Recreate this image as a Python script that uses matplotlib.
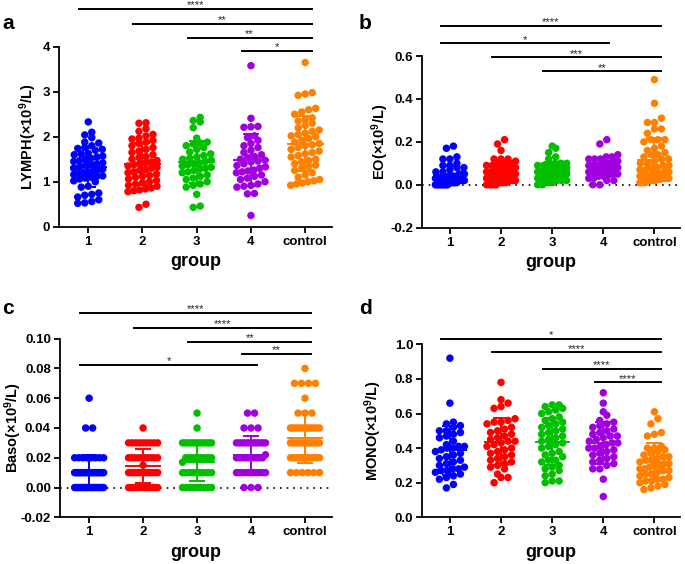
import numpy as np
import matplotlib.pyplot as plt

plt.rcParams['font.family'] = ['Liberation Sans', 'DejaVu Sans']
plt.rcParams['font.weight'] = 'bold'
plt.rcParams['mathtext.fontset'] = 'custom'
plt.rcParams['mathtext.rm'] = 'Liberation Sans:bold'
plt.rcParams['mathtext.default'] = 'rm'

groups = ['1', '2', '3', '4', 'control']
colors = ['#0000FF', '#FF0000', '#00C000', '#A000E0', '#FF8000']

# ---- LYMPH ----
lymph_g1 = [2.33, 2.10, 2.04, 1.98, 1.88, 1.86, 1.80, 1.76, 1.74, 1.72, 1.70, 1.63, 1.62,
            1.60, 1.57, 1.55, 1.52, 1.50, 1.47, 1.45, 1.42, 1.40, 1.38, 1.36, 1.33, 1.30,
            1.28, 1.26, 1.24, 1.22, 1.20, 1.18, 1.16, 1.13, 1.12, 1.10, 1.08, 1.06, 1.02,
            1.00, 0.90, 0.88, 0.75, 0.72, 0.70, 0.66, 0.60, 0.56, 0.53, 0.52]
lymph_g2 = [2.31, 2.30, 2.18, 2.12, 2.05, 2.02, 1.97, 1.95, 1.92, 1.88, 1.85, 1.80, 1.76,
            1.72, 1.68, 1.65, 1.60, 1.56, 1.54, 1.50, 1.47, 1.44, 1.42, 1.40, 1.38, 1.35,
            1.32, 1.30, 1.27, 1.25, 1.22, 1.20, 1.17, 1.14, 1.12, 1.10, 1.06, 1.03, 1.00,
            0.98, 0.95, 0.92, 0.90, 0.86, 0.84, 0.82, 0.80, 0.78, 0.50, 0.43]
lymph_g3 = [2.43, 2.36, 2.33, 2.20, 1.97, 1.88, 1.86, 1.84, 1.80, 1.76, 1.72, 1.66, 1.62,
            1.58, 1.55, 1.52, 1.50, 1.48, 1.45, 1.42, 1.40, 1.38, 1.35, 1.32, 1.30, 1.28,
            1.25, 1.22, 1.20, 1.15, 1.12, 1.08, 1.05, 1.00, 0.95, 0.92, 0.88, 0.72, 0.46, 0.43]
lymph_g4 = [3.58, 2.41, 2.23, 2.22, 2.21, 2.02, 1.98, 1.92, 1.85, 1.80, 1.76, 1.70, 1.65,
            1.60, 1.56, 1.54, 1.50, 1.48, 1.46, 1.44, 1.40, 1.36, 1.33, 1.30, 1.26, 1.24,
            1.22, 1.20, 1.15, 1.12, 1.08, 1.05, 1.00, 0.95, 0.92, 0.90, 0.88, 0.74, 0.73, 0.25]
lymph_ctrl = [3.65, 2.98, 2.95, 2.92, 2.63, 2.60, 2.55, 2.50, 2.42, 2.38, 2.35, 2.30, 2.25,
              2.20, 2.15, 2.12, 2.08, 2.05, 2.02, 2.00, 1.96, 1.92, 1.88, 1.85, 1.82, 1.80,
              1.76, 1.72, 1.68, 1.65, 1.62, 1.58, 1.55, 1.50, 1.47, 1.44, 1.40, 1.37, 1.34,
              1.30, 1.25, 1.20, 1.15, 1.10, 1.05, 1.02, 1.00, 0.97, 0.95, 0.92]

# ---- EO ----
eo_g1 = [0.18, 0.17, 0.13, 0.12, 0.12, 0.10, 0.09, 0.09, 0.08, 0.08, 0.07, 0.06, 0.06, 0.05,
         0.05, 0.05, 0.04, 0.04, 0.04, 0.04, 0.03, 0.03, 0.03, 0.03, 0.03, 0.02, 0.02, 0.02,
         0.02, 0.02, 0.01, 0.01, 0.01, 0.01, 0.01, 0.01, 0.00, 0.00, 0.00, 0.00, 0.00, 0.00,
         0.00, 0.00, 0.00]
eo_g2 = [0.21, 0.19, 0.16, 0.12, 0.12, 0.12, 0.11, 0.10, 0.10, 0.10, 0.09, 0.09, 0.08, 0.08,
         0.08, 0.07, 0.07, 0.07, 0.06, 0.06, 0.06, 0.05, 0.05, 0.05, 0.05, 0.04, 0.04, 0.04,
         0.04, 0.03, 0.03, 0.03, 0.03, 0.02, 0.02, 0.02, 0.02, 0.01, 0.01, 0.01, 0.01, 0.00,
         0.00, 0.00, 0.00, 0.00]
eo_g3 = [0.18, 0.17, 0.15, 0.13, 0.12, 0.10, 0.10, 0.10, 0.09, 0.09, 0.09, 0.08, 0.08, 0.08,
         0.08, 0.07, 0.07, 0.07, 0.07, 0.06, 0.06, 0.06, 0.06, 0.05, 0.05, 0.05, 0.05, 0.04,
         0.04, 0.04, 0.04, 0.03, 0.03, 0.03, 0.02, 0.02, 0.02, 0.01, 0.01, 0.00, 0.00]
eo_g4 = [0.21, 0.19, 0.14, 0.13, 0.13, 0.12, 0.12, 0.12, 0.11, 0.11, 0.10, 0.10, 0.10, 0.09,
         0.09, 0.09, 0.09, 0.08, 0.08, 0.08, 0.08, 0.07, 0.07, 0.07, 0.06, 0.06, 0.06, 0.05,
         0.05, 0.05, 0.04, 0.04, 0.03, 0.03, 0.02, 0.02, 0.00, 0.00]
eo_ctrl = [0.49, 0.38, 0.31, 0.29, 0.29, 0.26, 0.26, 0.24, 0.21, 0.21, 0.21, 0.20, 0.18, 0.17,
           0.16, 0.15, 0.14, 0.14, 0.13, 0.12, 0.12, 0.11, 0.10, 0.10, 0.09, 0.09, 0.08, 0.08,
           0.07, 0.07, 0.06, 0.06, 0.06, 0.05, 0.05, 0.05, 0.05, 0.05, 0.04, 0.04, 0.04, 0.04,
           0.04, 0.03, 0.03, 0.03, 0.03, 0.03, 0.02, 0.02, 0.02, 0.02, 0.01, 0.01, 0.01]

# ---- Baso (values recorded in 0.01 steps: counts per level) ----
baso_levels = [0.00, 0.01, 0.02, 0.03, 0.04, 0.05, 0.06, 0.07, 0.08]
baso_g1_counts = [18, 21, 8, 0, 2, 0, 1, 0, 0]
baso_g2_counts = [11, 12, 10, 9, 1, 0, 0, 0, 0]
baso_g3_counts = [9, 10, 9, 12, 1, 1, 0, 0, 0]
baso_g4_counts = [3, 10, 10, 11, 3, 2, 0, 0, 0]
baso_ctrl_counts = [0, 6, 13, 12, 13, 3, 1, 4, 1]
baso_extra = [[], [0.015], [0.017], [0.022], []]

# ---- MONO ----
mono_g1 = [0.92, 0.66, 0.55, 0.54, 0.53, 0.52, 0.50, 0.50, 0.49, 0.48, 0.47, 0.46, 0.44, 0.42,
           0.41, 0.41, 0.40, 0.40, 0.39, 0.38, 0.37, 0.36, 0.35, 0.34, 0.33, 0.32, 0.31, 0.30,
           0.29, 0.28, 0.28, 0.27, 0.27, 0.26, 0.25, 0.24, 0.23, 0.22, 0.19, 0.17]
mono_g2 = [0.78, 0.68, 0.66, 0.64, 0.63, 0.57, 0.56, 0.55, 0.55, 0.54, 0.52, 0.51, 0.50, 0.49,
           0.48, 0.47, 0.46, 0.45, 0.44, 0.44, 0.43, 0.42, 0.41, 0.40, 0.39, 0.38, 0.37, 0.36,
           0.35, 0.34, 0.33, 0.32, 0.31, 0.30, 0.29, 0.28, 0.25, 0.23, 0.23, 0.20]
mono_g3 = [0.65, 0.65, 0.64, 0.63, 0.62, 0.61, 0.60, 0.58, 0.57, 0.56, 0.55, 0.54, 0.53, 0.52,
           0.51, 0.50, 0.49, 0.48, 0.47, 0.46, 0.45, 0.44, 0.43, 0.42, 0.41, 0.40, 0.38, 0.37,
           0.36, 0.35, 0.33, 0.33, 0.32, 0.30, 0.29, 0.28, 0.27, 0.25, 0.24, 0.21, 0.21, 0.20]
mono_g4 = [0.72, 0.66, 0.61, 0.59, 0.56, 0.55, 0.54, 0.53, 0.52, 0.51, 0.50, 0.49, 0.48, 0.47,
           0.47, 0.46, 0.45, 0.44, 0.43, 0.43, 0.42, 0.41, 0.40, 0.40, 0.39, 0.38, 0.37, 0.36,
           0.35, 0.34, 0.33, 0.32, 0.31, 0.30, 0.28, 0.28, 0.22, 0.12]
mono_ctrl = [0.61, 0.57, 0.54, 0.49, 0.48, 0.47, 0.41, 0.40, 0.40, 0.39, 0.38, 0.37, 0.36, 0.35,
             0.35, 0.34, 0.33, 0.33, 0.32, 0.31, 0.31, 0.30, 0.30, 0.29, 0.28, 0.28, 0.27, 0.27,
             0.26, 0.25, 0.25, 0.24, 0.23, 0.22, 0.22, 0.21, 0.21, 0.20, 0.19, 0.18, 0.17, 0.16]

# significance comparisons: (from group, to group, label)
sig_lymph = [(1, 5, '****'), (2, 5, '**'), (3, 5, '**'), (4, 5, '*')]
sig_eo = [(1, 5, '****'), (1, 4, '*'), (2, 5, '***'), (3, 5, '**')]
sig_baso = [(1, 5, '****'), (2, 5, '****'), (3, 5, '**'), (4, 5, '**'), (1, 4, '*')]
sig_mono = [(1, 5, '*'), (2, 5, '****'), (3, 5, '****'), (4, 5, '****')]

baso_counts = [baso_g1_counts, baso_g2_counts, baso_g3_counts, baso_g4_counts, baso_ctrl_counts]
baso_data = [list(np.repeat(baso_levels, c)) + e for c, e in zip(baso_counts, baso_extra)]

panels = [
    dict(letter='a', data=[lymph_g1, lymph_g2, lymph_g3, lymph_g4, lymph_ctrl],
         ylabel='LYMPH(×10$^{9}$/L)', ylim=(0, 4), yticks=[0, 1, 2, 3, 4], fmt='{:.0f}',
         sig=sig_lymph, sig_y=[4.84, 4.51, 4.20, 3.91], zero=False, lab_off=20,
         rect=[0.0861, 0.598, 0.399, 0.3191]),
    dict(letter='b', data=[eo_g1, eo_g2, eo_g3, eo_g4, eo_ctrl],
         ylabel='EO(×10$^{9}$/L)', ylim=(-0.2, 0.6), yticks=[-0.2, 0.0, 0.2, 0.4, 0.6],
         fmt='{:.1f}', sig=sig_eo, sig_y=[0.74, 0.659, 0.594, 0.529], zero=True, lab_off=31,
         rect=[0.6165, 0.5963, 0.3762, 0.3044]),
    dict(letter='c', data=baso_data,
         ylabel='Baso(×10$^{9}$/L)', ylim=(-0.02, 0.10),
         yticks=[-0.02, 0.0, 0.02, 0.04, 0.06, 0.08, 0.10], fmt='{:.2f}',
         sig=sig_baso, sig_y=[0.1175, 0.1074, 0.098, 0.0899, 0.0823], zero=True, lab_off=36,
         rect=[0.0876, 0.0828, 0.397, 0.3167]),
    dict(letter='d', data=[mono_g1, mono_g2, mono_g3, mono_g4, mono_ctrl],
         ylabel='MONO(×10$^{9}$/L)', ylim=(0, 1.0), yticks=[0, 0.2, 0.4, 0.6, 0.8, 1.0],
         fmt='{:.1f}', sig=sig_mono, sig_y=[1.031, 0.954, 0.859, 0.78], zero=False, lab_off=38,
         rect=[0.6165, 0.0828, 0.3762, 0.3067]),
]


def swarm(ax, x0, vals, d=7.0, half=14.5):
    vals = np.sort(np.asarray(vals, dtype=float))
    pts = ax.transData.transform(np.column_stack([np.full(len(vals), x0), vals]))
    ypx = pts[:, 1]
    px_x = ax.transData.transform([[1, 0]])[0, 0] - ax.transData.transform([[0, 0]])[0, 0]
    xs = np.empty(len(vals))
    i = 0
    while i < len(vals):
        j = i
        while j < len(vals) and ypx[j] - ypx[i] < d * 0.85:
            j += 1
        n = j - i
        step = d if n < 2 else min(d, 2 * half / (n - 1))
        xs[i:j] = x0 + (np.arange(n) - (n - 1) / 2) * step / px_x
        i = j
    return xs, vals


fig = plt.figure(figsize=(6.85, 5.64), dpi=100)

for p in panels:
    ax = fig.add_axes(p['rect'])
    ax.set_xlim(0.46, 5.5)
    ax.set_ylim(*p['ylim'])
    for s in ['top', 'right']:
        ax.spines[s].set_visible(False)
    for s in ['left', 'bottom']:
        ax.spines[s].set_linewidth(1.3)

    if p['zero']:
        ax.axhline(0, color='black', lw=1.2, ls=(0, (1, 3)), zorder=1)

    for k, vals in enumerate(p['data']):
        x0 = k + 1
        xs, ys = swarm(ax, x0, vals)
        ax.scatter(xs, ys, s=29, color=colors[k], edgecolors='none', zorder=2)
        m = np.mean(vals)
        sd = np.std(vals, ddof=1)
        ax.hlines(m, x0 - 0.34, x0 + 0.34, color=colors[k], lw=1.4, zorder=3)
        ax.errorbar(x0, m, yerr=sd, color=colors[k], lw=1.4, capsize=5.5, capthick=1.4,
                    zorder=3)

    for (g1, g2, lab), yy in zip(p['sig'], p['sig_y']):
        xa = g1 - 0.17
        xb = g2 + 0.12
        ax.plot([xa, xb], [yy, yy], color='black', lw=1.4, clip_on=False)
        ax.annotate(lab, ((xa + xb) / 2, yy), xytext=(0, -1), textcoords='offset points',
                    ha='center', va='bottom', fontsize=8, fontweight='normal',
                    color='#222222', annotation_clip=False)

    ax.set_xticks(range(1, 6))
    ax.set_xticklabels(groups, fontsize=9.5, fontweight='bold')
    ax.set_yticks(p['yticks'])
    ax.set_yticklabels([p['fmt'].format(v) for v in p['yticks']], fontsize=9.5,
                       fontweight='bold')
    ax.tick_params(width=1.3, length=4.5, pad=2)
    ax.set_xlabel('group', fontsize=13, fontweight='bold', labelpad=4)
    ax.set_ylabel(p['ylabel'], fontsize=10.5, fontweight='bold')
    r = p['rect']
    ax.yaxis.set_label_coords(-p['lab_off'] / (r[2] * 685), 0.5)

    lx = 0.003 if r[0] < 0.5 else 0.524
    ly = 0.975 if r[1] > 0.5 else 0.47
    fig.text(lx, ly, p['letter'], fontsize=15, fontweight='bold', va='top', ha='left')

fig.savefig('out.png', dpi=100)
